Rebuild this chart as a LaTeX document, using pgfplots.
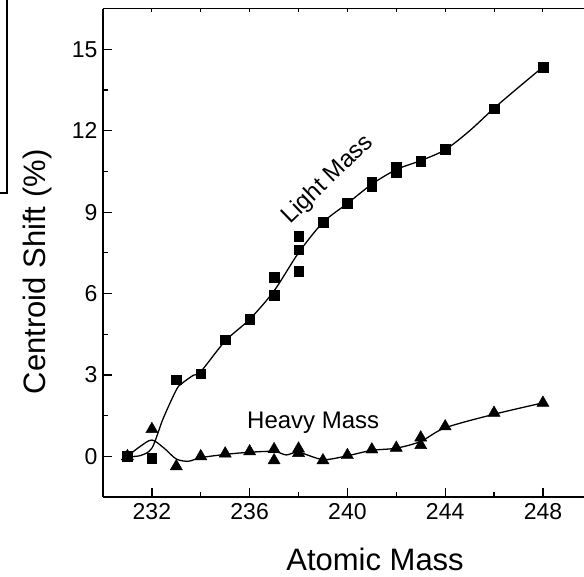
\documentclass[border=0pt]{standalone}
\usepackage{pgfplots}
\pgfplotsset{compat=1.18}
\usepackage{fontspec}
\setmainfont{Liberation Sans}

\begin{document}
\begin{tikzpicture}[x=1pt,y=1pt]
\useasboundingbox (0,0) rectangle (584,576);
\clip (0,0) rectangle (584,576);
% edge of the neighbouring panel, cut off at the left
\draw[line width=1.2pt] (7,576) -- (7,383) -- (0,383);

\begin{axis}[
    at={(103pt,79pt)}, anchor=south west,
    scale only axis,
    width=537.7pt, height=488.3pt,
    xmin=230, xmax=252,
    ymin=-1.5, ymax=16.5,
    axis x line*=bottom, axis y line*=left,
    axis line style={line width=1.5pt},
    xtick={232,236,...,248},
    minor xtick={234,238,...,250},
    ytick={0,3,...,15},
    minor y tick num=1,
    tick align=inside,
    major tick length=9pt, minor tick length=5pt,
    every tick/.style={line width=1.3pt, black},
    tick label style={font=\fontsize{23}{27}\selectfont},
    /pgf/number format/assume math mode=true,
    xticklabel style={yshift=-3pt},
    yticklabel style={xshift=-2pt},
    xlabel={Atomic Mass},
    ylabel={Centroid Shift (\%)},
    label style={font=\fontsize{31}{36}\selectfont, inner sep=1pt},
    xlabel style={at={(axis description cs:0.506,-0.127)}, anchor=center},
    ylabel style={at={(axis description cs:-0.1227,0.461)}, anchor=center, rotate=0},
]
% smoothed curves
\addplot[black, line width=1.3pt, smooth, tension=0.5, no marks] coordinates {
    (231,0.0) (231.5,0.02) (232,0.3) (232.46,1.39) (233,2.45) (233.22,2.68)
    (233.7,2.99) (234,3.12) (235,4.25) (236,5.05) (237,6.1) (238,7.5)
    (239,8.62) (240,9.32) (241,10.03) (242,10.57) (243,10.9) (244,11.3)
    (245,12.0) (246,12.83) (247,13.6) (248,14.35)
};
\addplot[black, line width=1.3pt, smooth, tension=0.5, no marks] coordinates {
    (231,0.0) (231.5,0.35) (232,0.6) (232.5,0.3) (233,-0.1) (233.5,-0.18)
    (234,-0.05) (235,0.07) (236,0.15) (237,0.18) (237.5,0.05) (238,0.15)
    (239,-0.12) (240,0.02) (241,0.22) (242,0.3) (243,0.55) (244,1.05)
    (246,1.55) (248,1.97)
};
% light mass
\addplot[only marks, mark=square*, mark size=4.8pt, mark options={fill=black, draw=black, line width=0.4pt}] coordinates {
    (231,0.0) (232,-0.08) (233,2.83) (234,3.05) (235,4.30) (236,5.05)
    (237,5.93) (237,6.61) (238,8.11) (238,7.62) (238,6.82) (239,8.64)
    (240,9.34) (241,9.95) (241,10.12) (242,10.47) (242,10.67) (243,10.87)
    (244,11.32) (246,12.82) (248,14.35)
};
% heavy mass
\addplot[only marks, mark=triangle*, mark size=7pt, mark options={fill=black, draw=black, line width=0.4pt}] coordinates {
    (231,0.0) (232,1.0) (233,-0.37) (234,0.0) (235,0.1) (236,0.18)
    (237,0.26) (237,-0.15) (238,0.28) (238,0.12) (239,-0.15) (240,0.04)
    (241,0.25) (242,0.31) (243,0.69) (243,0.41) (244,1.1) (246,1.6) (248,1.97)
};
\node[font=\fontsize{24}{28}\selectfont] at (axis cs:238.6,1.25) {Heavy Mass};
\node[font=\fontsize{24}{28}\selectfont, rotate=44] at (axis cs:239.2,10.2) {Light Mass};
\end{axis}

% short ticks along the top edge
\begin{axis}[
    at={(103pt,79pt)}, anchor=south west,
    scale only axis,
    width=537.7pt, height=488.3pt,
    xmin=230, xmax=252,
    ymin=-1.5, ymax=16.5,
    axis x line*=top, axis y line=none,
    axis line style={line width=1.5pt},
    xtick={232,234,...,250},
    xticklabels={},
    tick align=inside,
    major tick length=3pt,
    every tick/.style={line width=1.1pt, black},
]
\end{axis}
\end{tikzpicture}
\end{document}
